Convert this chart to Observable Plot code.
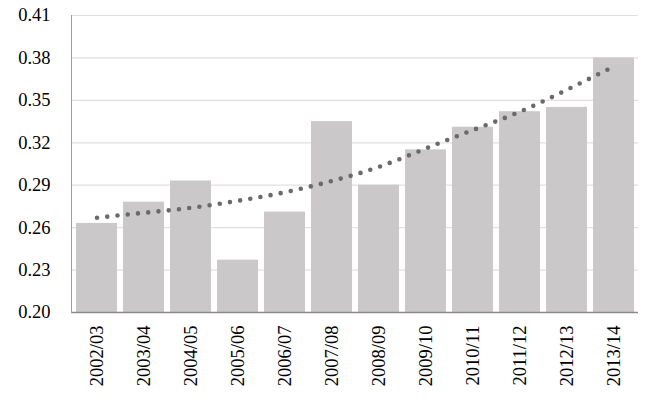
<!DOCTYPE html>
<html>
<head>
<meta charset="utf-8">
<script src="https://cdn.jsdelivr.net/npm/d3@7"></script>
<script src="https://cdn.jsdelivr.net/npm/@observablehq/plot@0.6"></script>
<style>
  html, body { margin: 0; padding: 0; background: #fff; }
  #chart svg { display: block; }
  #chart svg text { font-family: "Liberation Serif", "Times New Roman", serif !important; }
</style>
</head>
<body>
<div id="chart"></div>
<script>
const years = ["2002/03","2003/04","2004/05","2005/06","2006/07","2007/08","2008/09","2009/10","2010/11","2011/12","2012/13","2013/14"];
const values = [0.263, 0.278, 0.293, 0.237, 0.271, 0.335, 0.290, 0.315, 0.331, 0.342, 0.345, 0.380];
const trend = [0.267, 0.2705, 0.274, 0.279, 0.285, 0.293, 0.303, 0.316, 0.329, 0.342, 0.3575, 0.374];
const yTicks = [0.20, 0.23, 0.26, 0.29, 0.32, 0.35, 0.38, 0.41];

const bars = years.map((y, i) => ({year: y, value: values[i]}));
const trendData = years.map((y, i) => ({year: y, value: trend[i]}));

const serif = "Liberation Serif";

const chart = Plot.plot({
  width: 650,
  height: 402,
  marginLeft: 71,
  marginRight: 12,
  marginTop: 15,
  marginBottom: 90,
  style: {fontFamily: serif, fontSize: "18px", color: "#000", background: "#fff"},
  x: {domain: years, paddingInner: 0.13, paddingOuter: 0.065, label: null},
  y: {domain: [0.20, 0.41], label: null},
  marks: [
    Plot.ruleY(yTicks.slice(1), {stroke: "#e4dfdc", strokeWidth: 1.2}),
    Plot.barY(bars, {x: "year", y1: 0.20, y2: "value", fill: "#cbc8c9"}),
    Plot.line(trendData, {x: "year", y: "value", stroke: "#6a6a6a", strokeWidth: 4.6, strokeDasharray: "0,10.3", strokeLinecap: "round", curve: "natural"}),
    Plot.ruleY([0.20], {stroke: "#8a8a8a", strokeWidth: 1.5}),
    Plot.frame({anchor: "left", stroke: "#a0a0a0", strokeWidth: 1}),
    Plot.axisY({ticks: yTicks, tickSize: 0, tickPadding: 21, tickFormat: d3.format(".2f"), fontSize: 18.5, fontFamily: serif, fill: "#000"}),
    Plot.axisX({tickSize: 0, tickPadding: 13, tickRotate: -90, fontSize: 18.5, fontFamily: serif, fill: "#000"})
  ]
});
document.getElementById("chart").appendChild(chart);
</script>
</body>
</html>
